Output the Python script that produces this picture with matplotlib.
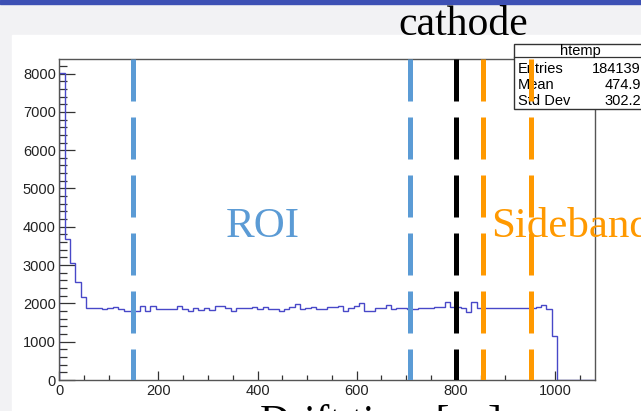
import matplotlib.pyplot as plt
import numpy as np
from matplotlib.patches import Rectangle
from matplotlib.lines import Line2D

W, H = 641, 411

# histogram "htemp": 100 bins over 0..1080
x_lo, x_hi = 0, 1080
counts = [8020, 3670, 3050, 2570, 2160, 1870, 1870, 1870, 1855, 1890,
          1915, 1855, 1810, 1810, 1800, 1940, 1810, 1940, 1855, 1855,
          1855, 1855, 1940, 1855, 1810, 1870, 1830, 1870, 1830, 1940,
          1940, 1870, 1810, 1890, 1870, 1870, 1915, 1855, 1915, 1855,
          1855, 1810, 1855, 1915, 1975, 1845, 1890, 1915, 1845, 1845,
          1915, 1915, 1940, 1810, 1870, 1940, 2000, 1810, 1800, 1890,
          1870, 1950, 1860, 1890, 1890, 1845, 1860, 1890, 1870, 1870,
          1915, 1915, 2035, 1915, 1915, 1870, 1785, 2030, 1870, 1890,
          1890, 1870, 1870, 1880, 1880, 1880, 1880, 1890, 1890, 1915,
          1950, 1860, 1150, 0, 0, 0, 0, 0, 0, 0]

# cut positions drawn as dashed lines
roi_cuts = [148, 707]
cathode_cut = [800]
side_cuts = [854, 951]

stat_title = 'htemp'
stat_names = ['Entries', 'Mean', 'Std Dev']
stat_vals = ['184139', '474.9', '302.2']


def fx(x):
    return x / W


def fy(y):
    return 1 - y / H


fig = plt.figure(figsize=(W / 100, H / 100), dpi=100, facecolor='#f2f2f4')

# slide background bits
fig.patches.append(Rectangle((0, fy(4)), 1, 4 / H, transform=fig.transFigure,
                             color='#3d50b4', zorder=-5))
fig.patches.append(Rectangle((fx(12), 0), 1, fy(35), transform=fig.transFigure,
                             color='white', zorder=-5))

ax = fig.add_axes([fx(59.3), fy(380), fx(595) - fx(59.3), fy(59) - fy(380)])
ax.set_facecolor('white')

edges = np.linspace(x_lo, x_hi, len(counts) + 1)
ax.stairs(counts, edges, baseline=0, color='#4848c8', lw=1.0, zorder=2)

ax.set_xlim(0, 1081)
ax.set_ylim(0, 8380)
top = ax.get_ylim()[1]

for xs, col in [(roi_cuts, '#5b9bd5'), (cathode_cut, 'black'), (side_cuts, '#ff9900')]:
    for x in xs:
        ax.plot([x, x], [top, 0], color=col, lw=3.6, dashes=(8.4, 3.2), zorder=3)

ax.set_xticks(np.arange(0, 1001, 200))
ax.set_xticks(np.arange(0, 1081, 50), minor=True)
ax.set_yticks(np.arange(0, 8001, 1000))
ax.set_yticks(np.arange(0, 8381, 200), minor=True)
ax.tick_params(which='both', direction='in', top=False, right=False, color='#333333',
               labelsize=10.5, labelfontfamily='Liberation Sans', labelcolor='#222222')
ax.tick_params(axis='y', which='major', length=11.5, width=0.9, pad=2.5)
ax.tick_params(axis='y', which='minor', length=5.8, width=0.9)
ax.tick_params(axis='x', which='major', length=6.5, width=0.9, pad=3)
ax.tick_params(axis='x', which='minor', length=3.3, width=0.9)
for s in ax.spines.values():
    s.set_color('#555555')
    s.set_linewidth(1.0)

# stats box
bx0, bx1, by0, by1 = 514, 646, 44, 109
box = Rectangle((fx(bx0), fy(by1)), fx(bx1) - fx(bx0), fy(by0) - fy(by1),
                transform=fig.transFigure, facecolor='white', edgecolor='#333333',
                lw=1.0, clip_on=False, zorder=2.6)
ax.add_artist(box)
ax.add_artist(Line2D([fx(bx0), fx(bx1)], [fy(57), fy(57)], transform=fig.transFigure,
                     color='#333333', lw=0.9, clip_on=False, zorder=2.7))
ax.text(fx(580), fy(51), stat_title, transform=fig.transFigure, ha='center', va='center',
        fontsize=10.5, family='Liberation Sans', zorder=2.8, clip_on=False)
for i, (n, v) in enumerate(zip(stat_names, stat_vals)):
    yy = fy(69 + 16 * i)
    ax.text(fx(518), yy, n, transform=fig.transFigure, ha='left', va='center',
            fontsize=10.5, family='Liberation Sans', zorder=2.8, clip_on=False)
    ax.text(fx(641), yy, v, transform=fig.transFigure, ha='right', va='center',
            fontsize=10.5, family='Liberation Sans', zorder=2.8, clip_on=False)

# slide annotations
fig.text(fx(398), fy(35), 'cathode', fontsize=30, family='Liberation Serif',
         color='black', va='baseline')
fig.text(fx(226), fy(237), 'ROI', fontsize=31, family='Liberation Serif',
         color='#5b9bd5', va='baseline', zorder=5)
fig.text(fx(491), fy(237), 'Sideband', fontsize=31, family='Liberation Serif',
         color='#ff9900', va='baseline', zorder=5)
fig.text(fx(260), fy(404), 'Drift time [\u03bcs]', fontsize=30, family='Liberation Serif',
         color='black', va='top')

fig.savefig('out.png', dpi=100, facecolor=fig.get_facecolor())
